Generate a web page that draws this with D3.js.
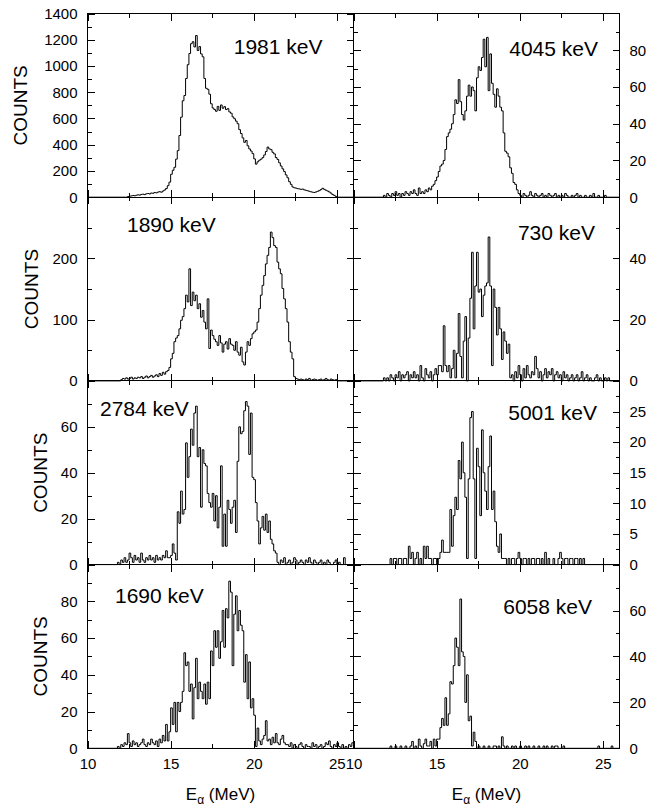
<!DOCTYPE html>
<html>
<head>
<meta charset="utf-8">
<script src="https://cdn.jsdelivr.net/npm/d3@7"></script>
<style>
  body { margin: 0; background: #fff; }
  svg { display: block; font-family: 'Liberation Sans', Arial, Helvetica, sans-serif; }
</style>
</head>
<body>
<svg width="658" height="808"></svg>
<script>
'use strict'

// energy axis (MeV), shared by all panels
const energyDomain = [10, 26]
const energyTicks = [10, 15, 20, 25]
const energyMinorTicks = [12.5, 17.5, 22.5]
const binWidth = 0.1

// panels in reading order: row by row, left then right
const panelNames = ['1981 keV', '4045 keV', '1890 keV', '730 keV', '2784 keV', '5001 keV', '1690 keV', '6058 keV']
const countsMax = [1400, 100, 300, 60, 80, 30, 100, 80]
const countsTicks = [
  [0, 200, 400, 600, 800, 1000, 1200, 1400],
  [0, 20, 40, 60, 80],
  [0, 100, 200],
  [0, 20, 40],
  [0, 20, 40, 60],
  [0, 5, 10, 15, 20, 25],
  [0, 20, 40, 60, 80],
  [0, 20, 40, 60]
]
const countsMinorTicks = [
  [100, 300, 500, 700, 900, 1100, 1300],
  [10, 30, 50, 70, 90],
  [50, 150, 250],
  [10, 30, 50],
  [10, 30, 50, 70],
  [2.5, 7.5, 12.5, 17.5, 22.5, 27.5],
  [10, 30, 50, 70, 90],
  [10, 30, 50, 70]
]

// first bin energy of each spectrum (MeV)
const spectrumStart = [12.3, 11.8, 12.0, 11.8, 11.8, 12.2, 11.8, 12.2]

const counts1981 = [
  0, 5, 8, 10, 13, 11, 15,
  18, 16, 21, 23, 20, 26, 28, 25, 32, 30,
  36, 33, 39, 42, 38, 47, 55, 66, 88, 115,
  175, 205, 228, 290, 355, 470, 610, 735, 775, 905,
  1010, 1095, 1170, 1185, 1145, 1232, 1118, 1148, 1092, 1070,
  905, 830, 822, 785, 712, 680, 668, 655, 692, 662,
  703, 678, 690, 668, 675, 650, 640, 612, 598, 580,
  560, 515, 485, 452, 418, 432, 392, 368, 352, 332,
  292, 252, 270, 282, 290, 302, 322, 348, 382, 368,
  362, 342, 330, 302, 288, 262, 238, 216, 195, 170,
  148, 118, 98, 78, 72, 69, 65, 63, 60, 62,
  56, 52, 49, 45, 41, 38, 36, 40, 45, 50,
  58, 68, 60, 53, 47, 40, 31, 20, 14, 6
]

const counts4045 = [
  1, 0,
  2, 1, 0, 2, 1, 3, 1, 2, 0, 2,
  1, 3, 2, 1, 3, 2, 4, 2, 1, 5,
  2, 3, 2, 4, 3, 5, 4, 6, 7, 9,
  11, 14, 17, 18, 20, 26, 33, 35, 37, 40,
  45, 53, 51, 64, 52, 45, 42, 47, 55, 61,
  55, 60, 58, 47, 65, 71, 69, 76, 86, 71,
  87, 58, 78, 62, 56, 49, 59, 55, 49, 47,
  35, 25, 24, 22, 16, 13, 8, 7, 4, 2,
  1, 0, 2, 1, 0, 1, 3, 1, 0, 2,
  1, 0, 1, 2, 0, 1, 0, 2, 1, 0,
  1, 2, 0, 1, 0, 1, 0, 2, 1, 0,
  0, 1, 0, 1, 2, 0, 1, 0, 0, 1,
  0, 0, 1, 0, 2, 0, 0, 1, 0, 0,
  0, 1, 0
]

const counts1890 = [
  2, 4, 3, 5, 3, 4, 6, 3, 5, 4,
  6, 5, 7, 4, 6, 8, 5, 7, 9, 6,
  8, 10, 7, 12, 9, 14, 11, 15, 17, 22,
  36, 45, 64, 70, 74, 85, 99, 105, 118, 140,
  129, 183, 123, 145, 131, 140, 118, 126, 104, 115,
  96, 85, 134, 53, 83, 74, 68, 64, 58, 74,
  62, 47, 60, 64, 52, 69, 60, 58, 50, 64,
  47, 42, 55, 31, 26, 47, 64, 58, 69, 77,
  80, 83, 96, 118, 140, 156, 172, 191, 205, 218,
  243, 234, 221, 218, 194, 183, 175, 151, 134, 118,
  96, 64, 47, 36, 7, 4, 3, 2, 3, 2,
  1, 3, 2, 4, 1, 2, 3, 2, 1, 2,
  3, 1, 2, 4, 2, 1, 3, 2, 1, 2
]

const counts730 = [
  1, 0,
  1, 0, 2, 1, 0, 2, 1, 3, 0, 2,
  1, 2, 3, 0, 2, 1, 3, 1, 2, 0,
  5, 1, 0, 4, 2, 1, 3, 0, 2, 4,
  2, 5, 5, 3, 18, 5, 3, 5, 1, 4,
  10, 1, 9, 22, 8, 1, 13, 21, 0, 14,
  27, 42, 17, 31, 42, 29, 30, 21, 28, 31,
  32, 47, 31, 5, 30, 24, 15, 24, 17, 7,
  16, 13, 9, 12, 1, 2, 0, 3, 1, 5,
  2, 0, 4, 1, 5, 2, 1, 3, 2, 8,
  4, 1, 3, 0, 2, 4, 1, 3, 2, 4,
  0, 2, 3, 1, 2, 0, 3, 1, 2, 0,
  1, 2, 0, 1, 2, 0, 1, 3, 0, 1,
  2, 0, 1, 0, 0, 1, 2, 0, 1, 0,
  0, 1, 0, 1
]

const counts2784 = [
  1, 0,
  2, 1, 3, 1, 2, 5, 3, 1, 4, 2,
  3, 1, 5, 2, 1, 3, 2, 4, 2, 3,
  1, 4, 2, 3, 2, 4, 3, 6, 3, 3,
  4, 9, 5, 2, 23, 18, 32, 22, 24, 53,
  38, 47, 59, 52, 66, 69, 47, 51, 25, 50,
  44, 43, 31, 27, 25, 31, 19, 30, 16, 25,
  43, 8, 22, 8, 28, 24, 18, 25, 28, 14,
  45, 60, 57, 58, 67, 71, 69, 48, 66, 38,
  37, 27, 19, 9, 16, 21, 15, 22, 14, 19,
  11, 9, 6, 5, 1, 0, 2, 1, 3, 0,
  1, 2, 0, 1, 3, 2, 0, 1, 2, 1,
  0, 2, 1, 3, 1, 0, 2, 1, 0, 1,
  2, 0, 1, 0, 2, 1, 0, 0, 1, 2,
  0, 1, 0, 0, 3, 0
]

const counts5001 = [
  1, 0, 1, 1, 0, 1, 1, 0,
  1, 1, 0, 3, 1, 2, 0, 1, 2, 0,
  1, 0, 3, 1, 3, 1, 1, 0, 1, 1,
  0, 1, 2, 4, 2, 2, 2, 2, 9, 3,
  8, 11, 9, 17, 14, 20, 15, 11, 1, 14,
  24, 25, 14, 1, 19, 16, 8, 22, 15, 12,
  9, 16, 21, 9, 12, 7, 3, 2, 5, 1,
  1, 1, 0, 1, 0, 1, 1, 0, 1, 2,
  1, 0, 1, 1, 0, 1, 0, 1, 1, 0,
  1, 1, 0, 1, 0, 2, 0, 1, 0, 0,
  1, 0, 0, 1, 2, 1, 0, 1, 1, 0,
  1, 1, 0, 1, 1, 0, 1, 0, 1, 0
]

const counts1690 = [
  1, 0,
  2, 1, 3, 2, 8, 3, 1, 4, 2, 3,
  1, 2, 3, 5, 2, 1, 3, 2, 5, 3,
  2, 4, 1, 5, 3, 7, 4, 13, 4, 9,
  22, 13, 25, 9, 25, 20, 25, 31, 52, 45,
  47, 31, 35, 16, 33, 49, 27, 36, 31, 27,
  35, 24, 36, 27, 53, 45, 64, 55, 64, 49,
  58, 75, 55, 76, 71, 91, 85, 45, 73, 83,
  64, 75, 67, 64, 36, 51, 27, 47, 22, 27,
  18, 1, 11, 4, 2, 5, 7, 15, 4, 5,
  2, 6, 3, 8, 3, 2, 5, 7, 3, 2,
  2, 1, 3, 0, 2, 1, 0, 2, 3, 1,
  0, 2, 1, 1, 0, 3, 1, 2, 0, 1,
  2, 0, 1, 3, 2, 4, 1, 0, 2, 1,
  3, 1, 0, 2, 0, 1, 0, 2, 1, 3
]

const counts6058 = [
  1, 0, 0, 1, 0, 0, 1, 0,
  0, 1, 0, 0, 1, 3, 0, 1, 0, 4,
  1, 0, 2, 4, 1, 1, 3, 0, 4, 1,
  4, 4, 9, 13, 10, 22, 10, 15, 29, 28,
  36, 48, 44, 36, 65, 42, 40, 20, 32, 12,
  14, 1, 7, 3, 0, 1, 0, 0, 1, 0,
  0, 1, 0, 0, 1, 1, 0, 1, 0, 5,
  1, 0, 1, 0, 0, 1, 0, 1, 0, 0,
  1, 0, 0, 1, 0, 1, 0, 0, 1, 0,
  0, 1, 0, 0, 1, 0, 1, 0, 0, 1,
  0, 1, 1, 0, 0, 0, 1, 0, 0, 0,
  0, 0, 0, 0, 0, 0, 0, 0, 0, 0,
  0, 0, 0, 0, 0, 0, 0, 1, 0, 0,
  0, 0, 0, 0, 0, 1, 0
]

const spectra = [counts1981, counts4045, counts1890, counts730, counts2784, counts5001, counts1690, counts6058]

// layout
const plotLeft = 87.5
const colWidth = 266
const plotTop = 13.5
const rowHeight = 183.7
const majorTick = 7
const minorTick = 4
const countsTitleX = [27, 37.5, 47, 47]
// [anchor, offset from the anchored panel edge, baseline below panel top]
const labelLayout = [
  ['end', -31, 40],
  ['end', -21.5, 42],
  ['start', 39.5, 35],
  ['end', -24.5, 43],
  ['start', 12.5, 35],
  ['end', -22.5, 39],
  ['start', 27.5, 38.5],
  ['end', -27.5, 49.5]
]

const svg = d3.select('body svg')

const xScales = [0, 1].map((col) => d3.scaleLinear()
  .domain(energyDomain)
  .range([plotLeft + col * colWidth, plotLeft + (col + 1) * colWidth]))

const noLabel = () => ''

const styleAxis = (g) => {
  g.attr('font-family', null).attr('font-size', 15)
  g.select('.domain').remove()
  g.selectAll('.tick line').attr('stroke', '#000').attr('shape-rendering', 'crispEdges')
  g.selectAll('.tick text').attr('fill', '#000')
}

const histLine = (x, y) => d3.line()
  .x((d) => x(d[0]))
  .y((d) => y(d[1]))
  .curve(d3.curveStepAfter)

panelNames.forEach((name, i) => {
  const col = i % 2
  const row = Math.floor(i / 2)
  const x = xScales[col]
  const [xLeft, xRight] = x.range()
  const yTop = plotTop + row * rowHeight
  const yBottom = yTop + rowHeight
  const y = d3.scaleLinear().domain([0, countsMax[i]]).range([yBottom, yTop])
  const panel = svg.append('g').classed('panel', true)

  const start = spectrumStart[i]
  const counts = spectra[i]
  const points = [[energyDomain[0], 0], [start, 0]]
    .concat(counts.map((c, k) => [start + k * binWidth, c]))
    .concat([[start + counts.length * binWidth, 0], [energyDomain[1], 0]])
  panel.append('path')
    .attr('d', histLine(x, y)(points))
    .attr('fill', 'none')
    .attr('stroke', '#000')
    .attr('stroke-width', 1)
    .attr('stroke-linejoin', 'miter')

  // energy ticks, all pointing inwards
  const showEnergy = row === 3
  panel.append('g')
    .attr('transform', `translate(0, ${yBottom})`)
    .call(d3.axisBottom(x).tickValues(energyTicks).tickSizeInner(-majorTick).tickSizeOuter(0)
      .tickPadding(10).tickFormat(showEnergy ? d3.format('d') : noLabel))
    .call(styleAxis)
  panel.append('g')
    .attr('transform', `translate(0, ${yBottom})`)
    .call(d3.axisBottom(x).tickValues(energyMinorTicks).tickSizeInner(-minorTick).tickSizeOuter(0).tickFormat(noLabel))
    .call(styleAxis)
  panel.append('g')
    .attr('transform', `translate(0, ${yTop})`)
    .call(d3.axisTop(x).tickValues(energyTicks).tickSizeInner(-majorTick).tickSizeOuter(0).tickFormat(noLabel))
    .call(styleAxis)
  panel.append('g')
    .attr('transform', `translate(0, ${yTop})`)
    .call(d3.axisTop(x).tickValues(energyMinorTicks).tickSizeInner(-minorTick).tickSizeOuter(0).tickFormat(noLabel))
    .call(styleAxis)

  // count ticks on both sides, labels on the outer side of the column
  panel.append('g')
    .attr('transform', `translate(${xLeft}, 0)`)
    .call(d3.axisLeft(y).tickValues(countsTicks[i]).tickSizeInner(-majorTick).tickSizeOuter(0)
      .tickPadding(10).tickFormat(col === 0 ? d3.format('d') : noLabel))
    .call(styleAxis)
  panel.append('g')
    .attr('transform', `translate(${xLeft}, 0)`)
    .call(d3.axisLeft(y).tickValues(countsMinorTicks[i]).tickSizeInner(-minorTick).tickSizeOuter(0).tickFormat(noLabel))
    .call(styleAxis)
  panel.append('g')
    .attr('transform', `translate(${xRight}, 0)`)
    .call(d3.axisRight(y).tickValues(countsTicks[i]).tickSizeInner(-majorTick).tickSizeOuter(0)
      .tickPadding(10).tickFormat(col === 1 ? d3.format('d') : noLabel))
    .call(styleAxis)
  panel.append('g')
    .attr('transform', `translate(${xRight}, 0)`)
    .call(d3.axisRight(y).tickValues(countsMinorTicks[i]).tickSizeInner(-minorTick).tickSizeOuter(0).tickFormat(noLabel))
    .call(styleAxis)

  panel.append('rect')
    .attr('x', xLeft)
    .attr('y', yTop)
    .attr('width', xRight - xLeft)
    .attr('height', yBottom - yTop)
    .attr('fill', 'none')
    .attr('stroke', '#000')
    .attr('shape-rendering', 'crispEdges')

  const [anchor, dx, dy] = labelLayout[i]
  panel.append('text')
    .attr('x', (anchor === 'end' ? xRight : xLeft) + dx)
    .attr('y', yTop + dy)
    .attr('text-anchor', anchor)
    .attr('font-size', 21)
    .attr('fill', '#000')
    .text(name)

  if (col === 0) {
    svg.append('text')
      .attr('transform', `translate(${countsTitleX[row]}, ${(yTop + yBottom) / 2}) rotate(-90)`)
      .attr('text-anchor', 'middle')
      .attr('font-size', 19)
      .attr('fill', '#000')
      .text('COUNTS')
  }
})

xScales.forEach((x) => {
  const title = svg.append('text')
    .attr('x', d3.mean(x.range()))
    .attr('y', 800)
    .attr('text-anchor', 'middle')
    .attr('font-size', 17)
    .attr('fill', '#000')
  title.append('tspan').text('E')
  title.append('tspan').attr('font-size', 12).attr('dy', 4).text('α')
  title.append('tspan').attr('dy', -4).text(' (MeV)')
})
</script>
</body>
</html>
